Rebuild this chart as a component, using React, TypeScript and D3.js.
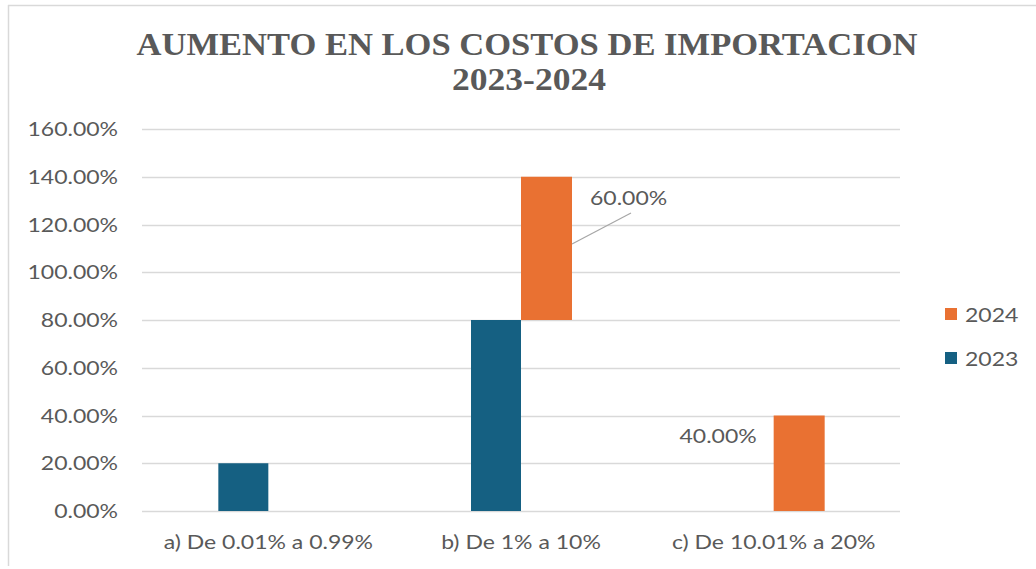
import React from "react";
import * as d3 from "d3";

const categories = ["a) De 0.01% a 0.99%", "b) De 1% a 10%", "c) De 10.01% a 20%"];
const values2023 = [0.2, 0.8, 0];
const values2024 = [0, 0.6, 0.4];
const base2024 = [0, 0.8, 0];
const yTicks = [0, 0.2, 0.4, 0.6, 0.8, 1.0, 1.2, 1.4, 1.6];
const seriesNames = ["2024", "2023"];

const W = 1036;
const H = 569;
const BLUE = "#156082";
const ORANGE = "#E97132";
const TEXT = "#595959";
const GRID = "#d9d9d9";
const FONT = "Lato, 'Open Sans', sans-serif";
const FS = 19.5;
const SX = 1.18;

function T({ x, y, anchor = "start", children }: { x: number; y: number; anchor?: string; children: React.ReactNode }) {
  return (
    <text
      transform={`translate(${x},${y}) scale(${SX},1)`}
      textAnchor={anchor}
      fontFamily={FONT}
      fontSize={FS}
      fill={TEXT}
    >
      {children}
    </text>
  );
}

export default function App() {
  const x = d3.scaleBand<string>().domain(categories).range([142, 900]);
  const y = d3.scaleLinear().domain([0, 1.6]).range([511, 129]);
  const bw = 50;
  const fmt = d3.format(".2%");

  return (
    <svg width={W} height={H} style={{ position: "absolute", left: 0, top: 0, background: "#fff" }}>
      <rect x={0} y={0} width={W} height={H} fill="#fff" />
      <line x1={8} x2={W} y1={5.5} y2={5.5} stroke={GRID} strokeWidth={1.5} />
      <line x1={8.5} x2={8.5} y1={5} y2={566} stroke={GRID} strokeWidth={1.5} />
      <text
        x={527}
        y={55}
        textAnchor="middle"
        fontFamily="'Liberation Serif', 'Times New Roman', serif"
        fontWeight="bold"
        fontSize={31}
        fill={TEXT}
        textLength={781}
        lengthAdjust="spacingAndGlyphs"
      >
        AUMENTO EN LOS COSTOS DE IMPORTACION
      </text>
      <text
        x={529}
        y={90}
        textAnchor="middle"
        fontFamily="'Liberation Serif', 'Times New Roman', serif"
        fontWeight="bold"
        fontSize={31}
        fill={TEXT}
        textLength={154}
        lengthAdjust="spacingAndGlyphs"
      >
        2023-2024
      </text>
      {yTicks.map((t) => (
        <g key={t}>
          <line x1={142} x2={900} y1={Math.round(y(t)) + 0.5} y2={Math.round(y(t)) + 0.5} stroke={GRID} strokeWidth={1.3} />
          <T x={118} y={y(t) + 7} anchor="end">
            {fmt(t)}
          </T>
        </g>
      ))}
      {categories.map((c, i) => {
        const cx = (x(c) as number) + x.bandwidth() / 2;
        return (
          <g key={c}>
            {values2023[i] > 0 && (
              <rect x={cx - bw} y={y(values2023[i])} width={bw} height={y(0) - y(values2023[i])} fill={BLUE} />
            )}
            {values2024[i] > 0 && (
              <rect
                x={cx}
                y={y(base2024[i] + values2024[i])}
                width={bw + 1}
                height={y(base2024[i]) - y(base2024[i] + values2024[i])}
                fill={ORANGE}
              />
            )}
            <T x={cx} y={549} anchor="middle">
              {c}
            </T>
          </g>
        );
      })}
      {(() => {
        const cb = (x(categories[1]) as number) + x.bandwidth() / 2;
        const top = y(base2024[1] + values2024[1]);
        const mid = y(base2024[1] + values2024[1] * 0.53);
        return (
          <g>
            <line x1={cb + bw + 1} y1={mid} x2={cb + bw + 60} y2={mid - 31} stroke="#a6a6a6" strokeWidth={1.2} />
            <T x={cb + 69} y={top + 28}>
              {fmt(values2024[1])}
            </T>
          </g>
        );
      })()}
      {(() => {
        const cc = (x(categories[2]) as number) + x.bandwidth() / 2;
        const top = y(values2024[2]);
        return (
          <T x={cc - 17} y={top + 27} anchor="end">
            {fmt(values2024[2])}
          </T>
        );
      })()}
      {seriesNames.map((s, i) => (
        <g key={s}>
          <rect x={945} y={308 + i * 44} width={12} height={12} fill={s === "2024" ? ORANGE : BLUE} />
          <T x={965} y={322 + i * 43.5}>
            {s}
          </T>
        </g>
      ))}
    </svg>
  );
}
